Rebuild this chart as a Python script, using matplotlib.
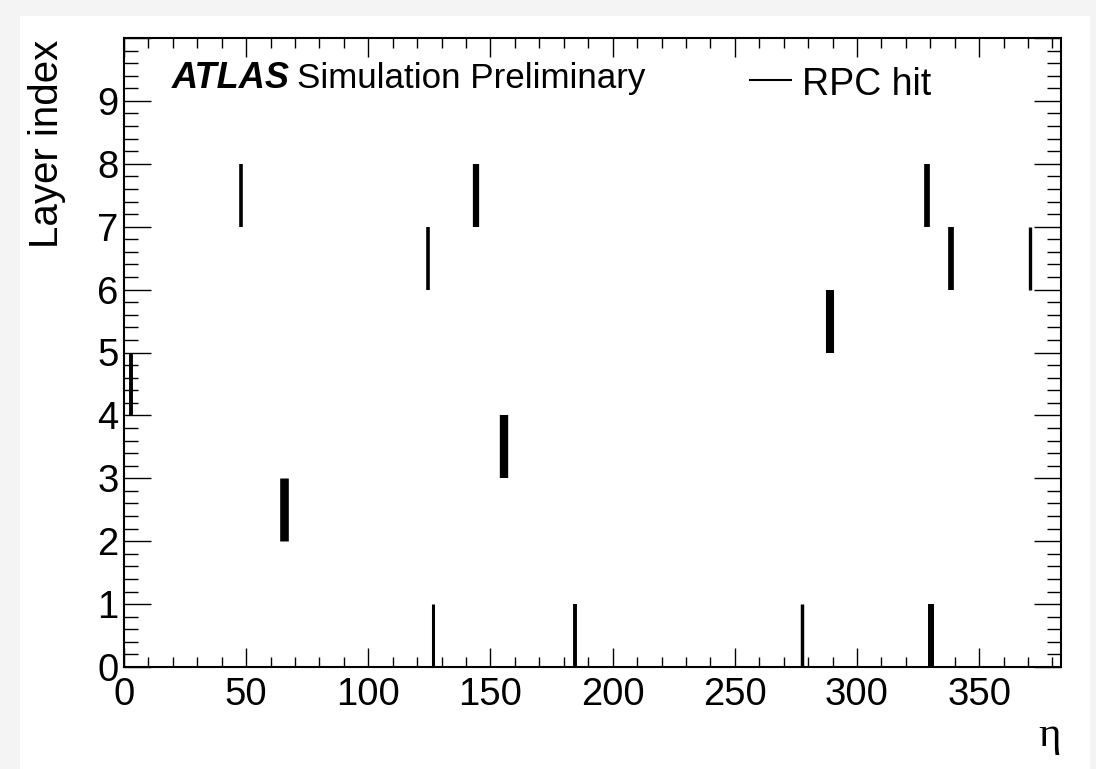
import numpy as np
import matplotlib
matplotlib.use('Agg')
from matplotlib import pyplot as plt
from matplotlib.patches import Rectangle

# RPC hits: eta position, layer index and drawn width (points)
hit_eta = [2.9, 47.8, 65.6, 124.6, 126.5, 144.0, 155.5, 184.5, 277.4, 289.1, 328.5, 330.3, 338.5, 370.9]
hit_layer = [4, 7, 2, 6, 0, 7, 3, 0, 0, 5, 7, 0, 6, 6]
hit_lw = [2.8, 2.6, 6.2, 2.6, 2.2, 4.5, 6.0, 2.8, 2.5, 5.8, 4.1, 4.3, 4.1, 2.4]

x_ticks = [0, 50, 100, 150, 200, 250, 300, 350]
y_ticks = list(range(11))
y_labels = [str(i) for i in range(10)] + ['']

plt.rcParams['font.family'] = ['Liberation Sans', 'DejaVu Sans']

W, H = 1096, 769
fig = plt.figure(figsize=(W / 100, H / 100), dpi=100)
fig.patch.set_facecolor('#f4f4f4')
# white canvas
fig.patches.append(Rectangle((20 / W, 0), 1070 / W, (H - 16) / H, transform=fig.transFigure,
                             facecolor='white', edgecolor='none', zorder=-10))

ax = fig.add_axes([124 / W, (H - 667) / H, (1061 - 124) / W, (667 - 38) / H])
ax.set_zorder(5)
ax.patch.set_alpha(0)
ax.set_xlim(0, 383.5)
ax.set_ylim(0, 10)

hits = np.array(hit_layer)
ax.vlines(hit_eta, hits, hits + 1, colors='black', linewidths=hit_lw)

for s in ax.spines.values():
    s.set_linewidth(1.5)

ax.set_xticks(x_ticks)
ax.set_xticks(np.arange(0, 384, 10), minor=True)
ax.set_yticks(y_ticks)
ax.set_yticklabels(y_labels)
ax.set_yticks(np.arange(0, 10.01, 0.2), minor=True)
ax.tick_params(axis='both', which='both', direction='in', top=True, right=True,
               labelsize=27.5, width=1.0, color='black')
ax.tick_params(axis='x', which='major', length=14, pad=7)
ax.tick_params(axis='x', which='minor', length=7.5)
ax.tick_params(axis='y', which='major', length=19.5, pad=4)
ax.tick_params(axis='y', which='minor', length=10)

fig.text(47 / W, (H - 40) / H, 'Layer index', rotation=90, ha='center', va='top', fontsize=29)
fig.text(1061 / W, (H - 746) / H, 'η', ha='right', va='baseline', fontsize=31,
         family=['Liberation Serif', 'DejaVu Serif'])

ax.text(0.051, 0.9205, 'ATLAS', transform=ax.transAxes, fontsize=26,
        fontweight='bold', fontstyle='italic', va='baseline')
ax.text(0.1846, 0.9205, 'Simulation Preliminary', transform=ax.transAxes, fontsize=25.2,
        va='baseline')

# legend entry
ax.plot([0.668, 0.712], [0.933, 0.933], transform=ax.transAxes, color='black', lw=1.5)
ax.text(0.7236, 0.909, 'RPC hit', transform=ax.transAxes, fontsize=27, va='baseline')

fig.savefig('out.png', dpi=100)
